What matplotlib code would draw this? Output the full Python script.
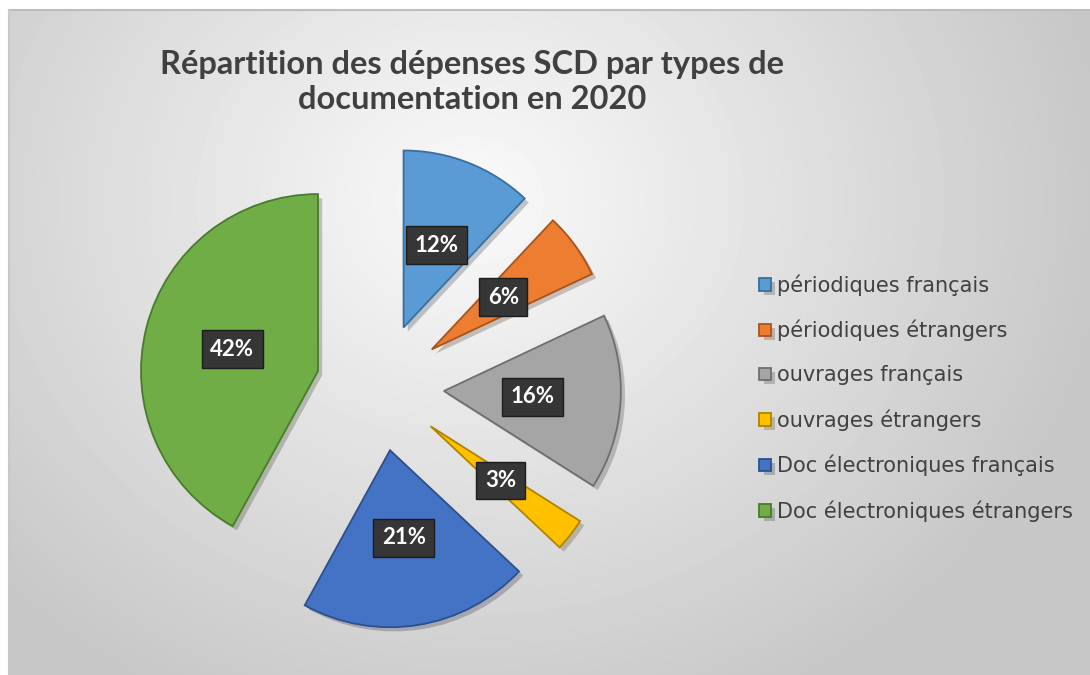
import numpy as np
import matplotlib
matplotlib.use('Agg')
import matplotlib.pyplot as plt
import matplotlib.patheffects as pe

# data
categories = ['périodiques français', 'périodiques étrangers', 'ouvrages français',
              'ouvrages étrangers', 'Doc électroniques français', 'Doc électroniques étrangers']
shares = [12, 6, 16, 3, 21, 42]
colors = ['#5B9BD5', '#ED7D31', '#A5A5A5', '#FFC000', '#4472C4', '#70AD47']
edge_colors = ['#3A6E9E', '#A9531A', '#6E6E6E', '#B08400', '#2D4F8E', '#4A7A2C']
title = 'Répartition des dépenses SCD par types de\ndocumentation en 2020'

W, H = 1090, 675
fig = plt.figure(figsize=(W / 100, H / 100), dpi=100)
fig.patch.set_facecolor('white')

# background: radial grey gradient inside the chart frame
bg = fig.add_axes([0, 0, 1, 1])
bg.set_xlim(0, W)
bg.set_ylim(H, 0)
bg.axis('off')
yy, xx = np.mgrid[10:H, 9:W]
r = np.sqrt(((xx - 470) / 640.) ** 2 + ((yy - 200) / 560.) ** 2)
val = 0.98 - 0.2 * np.clip(r, 0, 1) ** 1.0
bg.imshow(val, cmap='gray', vmin=0, vmax=1, extent=(9, W, H, 10), aspect='auto',
          interpolation='bilinear')
bg.plot([9, W], [10, 10], color='#bdbdbd', lw=1.5)
bg.plot([9, 9], [10, H], color='#c8c8c8', lw=1.5)

# pie
ax = fig.add_axes([0, 0, 1, 1])
wedges, texts, autotexts = ax.pie(
    shares, colors=colors, startangle=90, counterclock=False,
    center=(380, H - 387), radius=177, explode=[64] * len(shares),
    autopct='%d%%', pctdistance=0.5,
    wedgeprops=dict(linewidth=1.3),
    textprops=dict(color='white', fontsize=16, fontweight='bold', family='Lato'))
for w, ec in zip(wedges, edge_colors):
    w.set_edgecolor(ec)
    w.set_path_effects([pe.SimplePatchShadow(offset=(3, -3), alpha=0.25), pe.Normal()])
for t in autotexts:
    t.set_bbox(dict(boxstyle='square,pad=0.38', fc='#363636', ec='#1c1c1c', lw=1))
ax.set_xlim(0, W)
ax.set_ylim(0, H)
ax.set_aspect('auto')
ax.axis('off')

fig.text(472 / W, 1 - 82 / H, title, ha='center', va='center', fontsize=23.5,
         fontweight='bold', family='Lato', color='#404040', linespacing=1.25)

ax.legend(wedges, categories, loc='upper left', bbox_to_anchor=(749 / W, 1 - 264 / H),
          frameon=False, prop=dict(family='DejaVu Sans', size=15), labelcolor='#404040',
          handlelength=0.55, handleheight=0.55, handletextpad=0.3, labelspacing=1.15,
          borderpad=0)

fig.savefig('out.png', dpi=100)
